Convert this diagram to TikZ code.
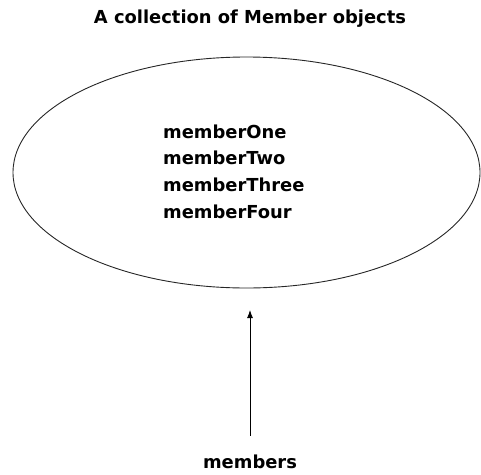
\documentclass[tikz,border=0pt]{standalone}
\usepackage{fontspec}
\setmainfont{DejaVu Sans}
\usetikzlibrary{shapes.geometric,arrows.meta}
\begin{document}
\begin{tikzpicture}
    [
    x=1pt, y=-1pt,
    caption/.style={
      font=\bfseries\fontsize{17.9}{21}\selectfont,
      inner sep=0pt
    },
    entry/.style={
      font=\bfseries\fontsize{17.9}{21}\selectfont,
      inner sep=0pt,
      anchor=base west
    },
    bag/.style={
      draw=black!85,
      line width=0.9pt,
      ellipse,
      minimum width=467pt,
      minimum height=231pt,
      inner sep=0pt
    }
    ]
    \useasboundingbox (0,0) rectangle (481,474);
    \node at (250,19) [caption] (title) {A collection of Member objects};
    \node at (246.5,172.5) [bag] (coll) {};
    \node at (163,138) [entry] (one) {memberOne};
    \node at (163,164.7) [entry] (two) {memberTwo};
    \node at (163,191.3) [entry] (three) {memberThree};
    \node at (163,218) [entry] (four) {memberFour};
    \node at (250,462) [caption] (members) {members};
    \coordinate (tip) at (250,310);
    \draw[-{Latex[length=8pt,width=6pt]}, line width=0.9pt]
      (members.north) [shorten <=19pt] -- (tip);
  \end{tikzpicture}
\end{document}
